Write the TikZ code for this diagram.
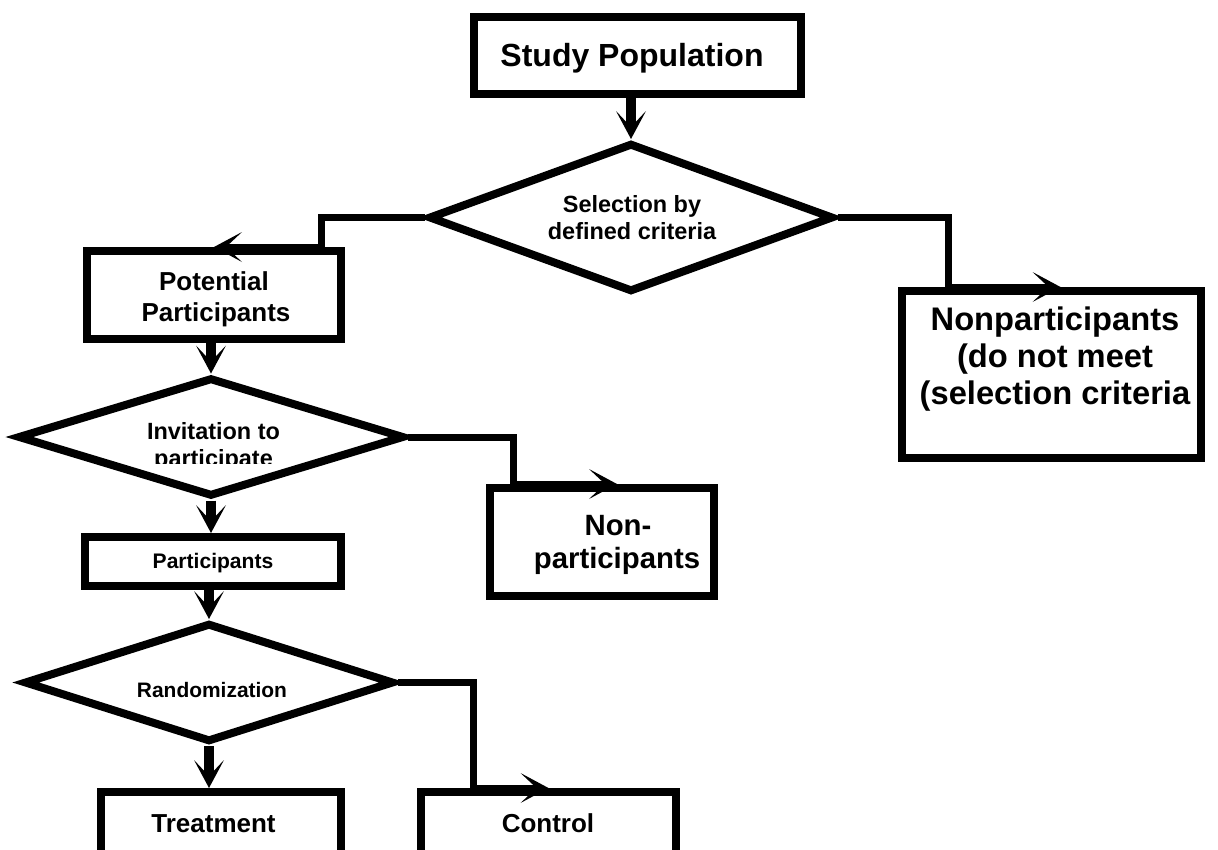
\documentclass[tikz,border=0pt]{standalone}
\usepackage{fontspec}
\setmainfont{Liberation Sans}
\usetikzlibrary{shapes.geometric,arrows.meta,calc}
\begin{document}
\begin{tikzpicture}[x=0.75pt,y=-0.75pt,
  box/.style={draw=black, line width=6pt, rectangle, inner sep=0pt, fill=white},
  dia/.style={draw=black, line width=6pt, diamond, inner sep=0pt, fill=white},
  txt/.style={inner sep=0pt, anchor=base},
  varr/.style={line width=7pt, -{Stealth[length=21pt,width=22.5pt,inset=12pt,line width=0pt]}},
  elb/.style={line width=5.25pt, -{Stealth[length=21pt,width=22.5pt,inset=12pt,line width=0pt]}},
]
\useasboundingbox (0,0) rectangle (1218,850);
\clip (0,0) rectangle (1218,850);
\fill[white] (0,0) rectangle (1218,850);

% boxes
\node[box, minimum width=245.25pt, minimum height=57.75pt] (sp) at (637.5,55.5) {};
\node[box, minimum width=190.5pt, minimum height=66pt] (pp) at (214,295) {};
\node[box, minimum width=224.25pt, minimum height=125.25pt] (np1) at (1051.5,374.5) {};
\node[box, minimum width=168pt, minimum height=81pt] (np2) at (602,542) {};
\node[box, minimum width=192pt, minimum height=36.75pt] (pa) at (213,561.5) {};
\node[box, minimum width=180pt, minimum height=66pt] (tr) at (221,836) {};
\node[box, minimum width=191.25pt, minimum height=66pt] (ct) at (548.5,836) {};

% diamonds
\node[dia, minimum width=303.75pt, minimum height=111.75pt] (d1) at (631,217.5) {};
\node[dia, minimum width=290pt, minimum height=89.25pt] (d2) at (211,437) {};
\node[dia, minimum width=277.5pt, minimum height=89.25pt] (d3) at (209,682.5) {};

% texts
\node[txt, font={\bfseries\fontsize{24pt}{28pt}\selectfont}] (tsp) at (632,66) {Study Population};
\node[txt, font={\bfseries\fontsize{17.6pt}{20pt}\selectfont}] (td1a) at (632,212) {Selection by};
\node[txt, font={\bfseries\fontsize{17.6pt}{20pt}\selectfont}] (td1b) at (632,239) {defined criteria};
\node[txt, font={\bfseries\fontsize{19.5pt}{22pt}\selectfont}] (tpp1) at (214,290) {Potential};
\node[txt, font={\bfseries\fontsize{19.5pt}{22pt}\selectfont}] (tpp2) at (216,321) {Participants};
\node[txt, font={\bfseries\fontsize{24.5pt}{28pt}\selectfont}] (tnp1a) at (1055,330) {Nonparticipants};
\node[txt, font={\bfseries\fontsize{24.5pt}{28pt}\selectfont}] (tnp1b) at (1055,367) {(do not meet};
\node[txt, font={\bfseries\fontsize{24.5pt}{28pt}\selectfont}] (tnp1c) at (1055,404) {(selection criteria};
\node[txt, font={\bfseries\fontsize{17.6pt}{20pt}\selectfont}] (td2a) at (213.5,439) {Invitation to};
\begin{scope}
  \clip (0,0) rectangle (1218,463);
  \node[txt, font={\bfseries\fontsize{17.6pt}{20pt}\selectfont}] (td2b) at (213.5,466) {participate};
\end{scope}
\node[txt, font={\bfseries\fontsize{22pt}{25pt}\selectfont}] (tnp2a) at (618,535) {Non-};
\node[txt, font={\bfseries\fontsize{22pt}{25pt}\selectfont}] (tnp2b) at (617,568) {participants};
\node[txt, font={\bfseries\fontsize{15.8pt}{18pt}\selectfont}] (tpa) at (213,568) {Participants};
\node[txt, font={\bfseries\fontsize{15.7pt}{18pt}\selectfont}] (td3) at (212,697) {Randomization};
\node[txt, font={\bfseries\fontsize{19.5pt}{22pt}\selectfont}] (ttr) at (213.5,832) {Treatment};
\node[txt, font={\bfseries\fontsize{19.5pt}{22pt}\selectfont}] (tct) at (548,832) {Control};

% connectors
\draw[varr] (d1.north |- sp.south) -- (d1.north);
\draw[elb] (d1.west) -| ($(pp.north east)+(-24,0)$) -- (pp.north);
\draw[elb] (d1.east) -| ($(np1.north west)+(50,0)$) -- ($(np1.north)+(9,0)$);
\draw[varr] (d2.north |- pp.south) -- (d2.north);
\draw[elb] (d2.east) -| ($(np2.north west)+(27,0)$) -- ($(np2.north)+(15,0)$);
\draw[varr] (d2.south) -- (d2.south |- pa.north);
\draw[varr] (d3.north |- pa.south) -- (d3.north);
\draw[varr] (d3.south) -- (d3.south |- tr.north);
\draw[elb] (d3.east) -| ($(ct.north west)+(56,0)$) -- (ct.north);
\end{tikzpicture}
\end{document}
